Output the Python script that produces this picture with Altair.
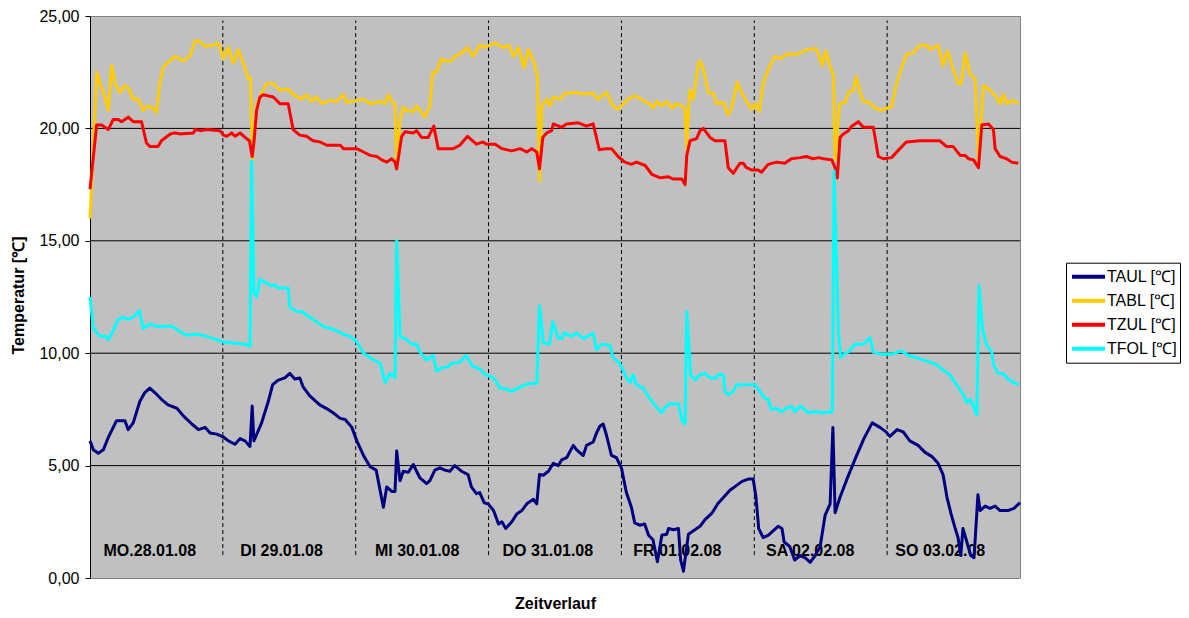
import altair as alt
import pandas as pd

# ---- data (hour of week, temperature in °C) ----
TAUL = [(0, 6.1), (0.6, 5.7), (1.5, 5.55), (2.4, 5.7), (3.3, 6.25), (4.8, 7.0), (6.3, 7.0), (6.9, 6.6),
        (7.8, 6.9), (9.0, 7.85), (9.9, 8.25), (10.8, 8.45), (11.7, 8.25), (12.9, 7.95), (14.1, 7.7),
        (15.7, 7.55), (16.9, 7.2), (18.4, 6.85), (19.6, 6.6), (20.8, 6.7), (21.7, 6.45), (22.9, 6.4),
        (24.1, 6.27), (25.0, 6.1), (26.2, 5.95), (27.1, 6.2), (28.0, 6.1), (28.9, 5.85), (29.3, 7.65),
        (29.6, 6.1), (31.0, 6.9), (32.2, 7.85), (33.0, 8.6), (34.0, 8.8), (35.2, 8.9), (36.1, 9.1),
        (37.0, 8.85), (37.9, 8.9), (38.5, 8.5), (39.7, 8.1), (41.5, 7.7), (43.0, 7.5), (43.9, 7.35),
        (45.2, 7.1), (46.1, 7.05), (47.3, 6.7), (48.2, 6.1), (49.4, 5.45), (50.6, 4.95), (51.7, 4.8),
        (52.4, 3.9), (53.0, 3.15), (53.6, 4.05), (54.5, 3.85), (55.1, 3.85), (55.4, 5.65), (56.0, 4.33),
        (56.6, 4.75), (57.5, 4.7), (58.4, 5.05), (59.0, 4.75), (59.6, 4.45), (60.8, 4.2), (61.4, 4.33),
        (62.3, 4.8), (63.2, 4.9), (64.1, 4.8), (65.0, 4.75), (65.9, 5.0), (67.1, 4.75), (68.3, 4.6),
        (68.9, 4.05), (69.8, 3.75), (70.4, 3.8), (71.2, 3.35), (71.9, 3.3), (72.9, 3.0), (73.8, 2.4),
        (74.4, 2.5), (75.1, 2.2), (76.2, 2.5), (77.1, 2.85), (78.0, 3.0), (78.9, 3.3), (80.1, 3.5),
        (80.7, 3.3), (81.2, 4.6), (81.9, 4.57), (82.8, 4.75), (83.7, 5.1), (84.6, 5.0), (85.2, 5.25),
        (86.1, 5.35), (87.3, 5.9), (87.9, 5.7), (89.1, 5.45), (89.7, 5.9), (90.9, 6.05), (91.5, 6.45),
        (92.1, 6.75), (92.7, 6.85), (93.3, 6.35), (94.2, 5.45), (95.1, 5.35), (96.0, 4.9), (96.9, 3.8),
        (97.8, 3.15), (98.4, 2.45), (99.3, 2.35), (100.2, 2.4), (100.9, 1.9), (101.7, 1.7), (102.5, 0.72),
        (103.3, 1.9), (104.2, 1.95), (104.5, 2.2), (105.4, 2.15), (106.3, 2.2), (106.7, 0.8), (107.2, 0.3),
        (108.1, 1.95), (109.0, 2.1), (110.2, 2.3), (111.1, 2.6), (112.4, 2.9), (113.4, 3.3), (114.5, 3.6),
        (115.6, 3.9), (116.7, 4.1), (117.8, 4.3), (118.9, 4.4), (119.8, 4.4), (120.3, 3.6), (120.8, 2.2),
        (121.6, 1.8), (122.5, 1.9), (123.4, 2.1), (124.3, 2.3), (125.0, 2.2), (125.4, 1.6), (126.4, 1.4),
        (127.3, 0.8), (128.3, 1.0), (129.2, 0.9), (130.1, 0.7), (131.0, 1.0), (131.9, 1.4), (132.8, 2.8),
        (133.7, 3.3), (134.2, 6.7), (134.6, 2.9), (135.5, 3.6), (136.9, 4.5), (138.4, 5.4), (139.8, 6.2),
        (141.3, 6.9), (142.7, 6.7), (143.8, 6.5), (144.5, 6.3), (145.8, 6.6), (146.9, 6.5), (148.1, 6.1),
        (149.6, 5.9), (150.8, 5.6), (152.1, 5.4), (153.2, 5.1), (154.1, 4.6), (154.8, 3.6), (155.5, 2.9),
        (156.3, 2.2), (156.8, 1.8), (157.3, 1.0), (157.7, 2.2), (158.4, 1.6), (159.1, 1.0), (159.7, 0.9),
        (160.4, 3.7), (160.8, 3.0), (161.7, 3.2), (162.6, 3.1), (163.5, 3.2), (164.4, 3.0), (165.8, 3.0),
        (166.9, 3.1), (168.0, 3.35)]

TABL = [(0, 16.0), (1.2, 22.5), (2.1, 21.8), (2.7, 21.4), (3.3, 20.8), (3.9, 22.8), (4.5, 22.0), (5.4, 21.6),
        (6.3, 21.9), (6.9, 21.8), (7.8, 21.3), (8.7, 21.3), (9.6, 20.8), (10.5, 21.0), (11.4, 20.9),
        (12.0, 20.7), (12.6, 22.0), (13.2, 22.7), (13.9, 22.9), (15.4, 23.2), (16.9, 23.0), (18.1, 23.25),
        (19.0, 23.9), (19.6, 23.9), (20.8, 23.65), (22.3, 23.7), (23.2, 23.8), (24.1, 23.1), (25.0, 23.6),
        (25.9, 22.9), (26.8, 23.5), (28.0, 22.7), (28.6, 22.2), (29.0, 22.25), (29.3, 18.6), (30.1, 21.1),
        (31.0, 21.55), (31.9, 22.0), (33.1, 22.0), (34.3, 21.7), (35.8, 21.75), (36.7, 21.5), (38.2, 21.3),
        (39.1, 21.5), (40.0, 21.2), (40.9, 21.4), (41.9, 21.1), (43.3, 21.25), (44.5, 21.2), (45.8, 21.5),
        (46.4, 21.15), (48.2, 21.25), (49.4, 21.3), (50.6, 21.1), (52.4, 21.2), (53.3, 21.1), (53.9, 21.5),
        (54.5, 21.2), (55.1, 21.1), (55.4, 18.25), (56.0, 20.4), (56.6, 20.95), (57.2, 20.8), (58.4, 20.75),
        (59.0, 21.0), (59.6, 20.8), (60.5, 20.5), (61.4, 21.0), (61.9, 22.5), (62.6, 22.5), (63.5, 23.1),
        (64.1, 23.0), (65.3, 23.0), (65.9, 23.2), (67.1, 23.35), (68.2, 23.6), (69.2, 23.2), (70.4, 23.7),
        (71.3, 23.6), (72.3, 23.7), (73.2, 23.8), (74.7, 23.6), (75.7, 23.7), (76.5, 23.2), (77.4, 23.6),
        (78.4, 22.7), (79.2, 23.5), (80.1, 23.0), (80.8, 22.4), (81.2, 17.65), (81.6, 21.0), (82.5, 21.3),
        (83.1, 21.0), (83.7, 21.4), (84.9, 21.3), (85.8, 21.55), (87.9, 21.6), (88.5, 21.55), (90.9, 21.55),
        (91.8, 21.3), (93.3, 21.6), (94.2, 21.1), (95.2, 20.85), (96.0, 21.0), (97.2, 21.3), (98.4, 21.45),
        (99.9, 21.25), (101.1, 21.1), (101.8, 20.9), (102.4, 21.2), (103.3, 21.0), (104.2, 21.2),
        (105.1, 20.9), (106.0, 21.1), (106.9, 21.0), (107.5, 20.8), (107.8, 19.05), (108.3, 21.7),
        (109.0, 21.3), (109.9, 22.9), (110.2, 23.0), (110.8, 22.65), (111.7, 21.6), (112.6, 21.55),
        (113.2, 21.1), (114.4, 21.15), (115.3, 20.6), (115.9, 20.9), (116.9, 22.05), (117.7, 21.6),
        (118.6, 21.2), (119.5, 20.85), (120.2, 21.1), (120.9, 20.75), (121.6, 22.0), (122.5, 22.6),
        (123.7, 23.2), (124.9, 23.1), (125.8, 23.3), (127.9, 23.3), (129.4, 23.5), (131.2, 23.55),
        (132.3, 22.8), (132.9, 23.45), (133.8, 22.7), (134.3, 22.35), (134.6, 18.6), (135.4, 21.1),
        (136.4, 21.15), (137.0, 21.6), (137.9, 21.7), (138.4, 22.3), (139.1, 21.6), (139.7, 21.2),
        (140.9, 21.15), (141.5, 20.95), (143.0, 20.8), (143.9, 20.9), (144.8, 20.95), (145.7, 22.0),
        (146.6, 22.7), (147.5, 23.3), (148.7, 23.35), (149.9, 23.7), (151.1, 23.7), (151.7, 23.5),
        (153.2, 23.7), (154.1, 22.8), (154.9, 23.45), (155.9, 22.65), (156.8, 22.0), (157.4, 22.0),
        (158.1, 23.35), (159.0, 22.4), (159.9, 22.2), (160.5, 18.6), (161.4, 21.9), (162.6, 21.7),
        (163.5, 21.45), (164.4, 21.1), (165.0, 21.5), (165.6, 21.1), (166.8, 21.25), (167.7, 21.1)]

TZUL = [(0, 17.3), (1.2, 20.15), (2.1, 20.15), (3.3, 19.95), (4.2, 20.4), (5.1, 20.4), (5.7, 20.3), (6.9, 20.5),
        (7.8, 20.3), (9.3, 20.3), (10.2, 19.35), (10.8, 19.2), (12.3, 19.2), (12.9, 19.45), (14.5, 19.75),
        (15.4, 19.8), (16.3, 19.75), (18.7, 19.8), (19.0, 19.95), (19.9, 19.9), (21.1, 19.95), (23.5, 19.9),
        (24.1, 19.7), (24.7, 19.65), (25.6, 19.8), (26.2, 19.65), (27.1, 19.8), (28.0, 19.6), (28.8, 19.45),
        (29.3, 18.75), (29.6, 19.35), (30.1, 20.8), (30.7, 21.4), (31.3, 21.5), (33.1, 21.4), (33.7, 21.25),
        (34.3, 21.1), (35.8, 21.1), (36.7, 19.95), (37.9, 19.7), (39.1, 19.65), (40.3, 19.45), (41.5, 19.4),
        (42.8, 19.25), (45.2, 19.25), (45.8, 19.1), (48.2, 19.1), (49.4, 18.95), (50.6, 18.8), (51.8, 18.75),
        (52.7, 18.6), (53.6, 18.5), (54.5, 18.65), (55.1, 18.5), (55.4, 18.2), (56.3, 19.65), (56.9, 19.85),
        (58.4, 19.8), (59.0, 19.9), (59.9, 19.6), (61.1, 19.6), (62.1, 20.1), (62.9, 19.1), (65.6, 19.1),
        (66.8, 19.25), (68.2, 19.65), (69.8, 19.3), (71.0, 19.4), (71.6, 19.3), (73.2, 19.3), (74.4, 19.1),
        (76.2, 19.0), (77.7, 19.1), (78.9, 18.95), (79.8, 19.1), (80.7, 18.95), (81.2, 18.2), (81.8, 19.6),
        (82.5, 19.8), (83.4, 19.9), (83.7, 20.2), (85.2, 20.05), (86.1, 20.2), (88.2, 20.25), (89.7, 20.1),
        (90.9, 20.2), (92.0, 19.05), (93.3, 19.1), (94.2, 19.1), (95.4, 18.75), (96.6, 18.5), (97.8, 18.4),
        (98.7, 18.5), (100.3, 18.35), (101.5, 17.95), (103.0, 17.8), (104.5, 17.85), (105.3, 17.75),
        (106.9, 17.75), (107.5, 17.5), (107.8, 18.8), (108.4, 19.45), (109.6, 19.55), (110.2, 19.9),
        (110.8, 20.0), (112.0, 19.6), (112.9, 19.45), (114.7, 19.45), (115.3, 18.25), (116.2, 18.0),
        (117.4, 18.45), (118.0, 18.45), (118.6, 18.25), (119.5, 18.15), (120.7, 18.15), (121.3, 18.05),
        (122.5, 18.4), (124.0, 18.5), (125.5, 18.45), (126.7, 18.65), (128.3, 18.7), (129.4, 18.75),
        (130.6, 18.65), (131.6, 18.7), (132.5, 18.65), (134.0, 18.6), (134.6, 18.25), (135.0, 17.8),
        (135.5, 19.6), (136.1, 19.75), (137.0, 19.9), (137.6, 20.1), (138.8, 20.3), (139.7, 20.05),
        (141.5, 20.05), (142.4, 18.75), (143.3, 18.65), (144.8, 18.7), (146.3, 19.1), (147.5, 19.4),
        (149.9, 19.45), (153.5, 19.45), (154.7, 19.2), (155.9, 19.2), (157.2, 18.8), (158.1, 18.8),
        (158.7, 18.65), (159.6, 18.6), (160.5, 18.25), (161.1, 20.15), (162.3, 20.2), (163.2, 19.95),
        (163.5, 19.1), (164.4, 18.75), (165.6, 18.65), (166.5, 18.5), (167.7, 18.45)]

TFOL = [(0, 12.5), (0.6, 11.1), (1.8, 10.75), (3.0, 10.75), (3.3, 10.6), (4.2, 11.0), (5.1, 11.5), (6.0, 11.6),
        (6.9, 11.5), (7.8, 11.6), (8.9, 11.9), (9.6, 11.1), (10.8, 11.3), (12.0, 11.2), (14.8, 11.2),
        (16.3, 10.95), (17.5, 10.8), (19.3, 10.85), (21.1, 10.75), (22.3, 10.65), (24.1, 10.5), (25.9, 10.45),
        (28.0, 10.4), (28.9, 10.3), (29.2, 18.55), (29.6, 12.7), (30.1, 12.5), (30.7, 13.3), (31.6, 13.15),
        (32.8, 13.0), (33.4, 13.05), (34.0, 12.9), (35.8, 12.9), (36.1, 12.05), (37.3, 11.85), (38.2, 11.85),
        (39.7, 11.6), (40.9, 11.4), (42.1, 11.2), (43.4, 11.1), (44.6, 11.0), (45.8, 10.85), (47.0, 10.75),
        (48.2, 10.5), (49.4, 10.0), (50.6, 9.8), (52.4, 9.55), (53.3, 8.7), (54.2, 9.1), (55.1, 8.9),
        (55.4, 15.0), (56.0, 10.75), (57.2, 10.6), (58.1, 10.4), (59.0, 10.4), (59.6, 10.05), (60.8, 9.7),
        (62.0, 9.9), (62.6, 9.2), (63.5, 9.35), (64.7, 9.4), (65.3, 9.55), (66.8, 9.6), (67.9, 9.9),
        (69.2, 9.4), (70.4, 9.3), (71.4, 9.05), (72.9, 8.9), (74.1, 8.45), (75.3, 8.4), (76.2, 8.3),
        (77.7, 8.5), (79.2, 8.65), (80.7, 8.65), (81.2, 12.1), (81.9, 10.45), (83.0, 10.4), (83.6, 11.4),
        (84.6, 10.65), (85.2, 10.65), (85.6, 10.9), (87.0, 10.75), (87.9, 10.9), (89.1, 10.65), (90.9, 10.9),
        (91.5, 10.15), (92.4, 10.4), (93.9, 10.35), (94.5, 9.8), (95.7, 9.55), (96.9, 8.9), (97.6, 8.7),
        (98.1, 9.05), (98.7, 8.6), (99.9, 8.45), (101.2, 7.95), (102.7, 7.5), (103.3, 7.35), (103.9, 7.6),
        (104.8, 7.75), (106.3, 7.75), (106.9, 7.05), (107.5, 6.85), (107.8, 11.85), (108.5, 9.05),
        (109.3, 8.8), (110.2, 9.05), (111.1, 9.1), (112.0, 8.9), (113.2, 8.9), (113.5, 9.05), (114.4, 9.05),
        (114.7, 8.3), (115.3, 8.15), (116.2, 8.3), (116.8, 8.6), (117.7, 8.6), (120.1, 8.6), (121.0, 8.3),
        (121.9, 8.0), (122.5, 7.95), (123.1, 7.5), (124.0, 7.55), (124.9, 7.4), (125.8, 7.55), (126.7, 7.65),
        (127.3, 7.4), (128.3, 7.65), (129.8, 7.35), (131.0, 7.4), (132.5, 7.35), (134.1, 7.4), (134.4, 18.1),
        (135.2, 10.95), (135.6, 9.8), (136.4, 10.0), (137.0, 10.05), (138.2, 10.4), (139.7, 10.4),
        (140.9, 10.7), (141.5, 10.05), (143.0, 9.95), (144.8, 9.95), (146.6, 10.1), (147.8, 9.9), (149.3, 9.8),
        (151.1, 9.65), (152.9, 9.5), (154.1, 9.25), (155.3, 9.05), (156.5, 8.6), (157.8, 8.15), (158.4, 7.8),
        (159.0, 7.95), (159.6, 7.65), (160.2, 7.25), (160.6, 13.0), (161.2, 11.1), (162.0, 10.35),
        (162.9, 10.05), (163.2, 9.5), (164.1, 9.1), (165.0, 9.1), (165.6, 8.9), (166.8, 8.7), (167.7, 8.6)]

SERIES = ["TAUL [℃]", "TABL [℃]", "TZUL [℃]", "TFOL [℃]"]
COLORS = ["#000080", "#FFCC00", "#FF0000", "#00FFFF"]

DAY_LABELS = ["MO.28.01.08", "DI 29.01.08", "MI 30.01.08", "DO 31.01.08",
              "FR 01.02.08", "SA 02.02.08", "SO 03.02.08"]
DAY_LABEL_X = [10.8, 34.6, 59.1, 82.7, 106.1, 130.1, 153.6]
DAY_LABEL_Y = 1.2
DIVIDER_X = [24, 48, 72, 96, 120, 144]
DIVIDER_Y = [1.02, 24.8]
GRID_Y = [5, 10, 15, 20]
Y_TICKS = [0, 5, 10, 15, 20, 25]
X_DOMAIN = [0, 168]
Y_DOMAIN = [0, 25]

# ---- tables ----
rows = []
for name, pts in zip(SERIES, [TAUL, TABL, TZUL, TFOL]):
    for i, (h, v) in enumerate(pts):
        rows.append({"series": name, "h": h, "v": v, "i": i})
df = pd.DataFrame(rows)
grid_df = pd.DataFrame({"y": GRID_Y})
div_df = pd.DataFrame({"x": DIVIDER_X, "y1": DIVIDER_Y[0], "y2": DIVIDER_Y[1]})
lab_df = pd.DataFrame({"x": DAY_LABEL_X, "y": DAY_LABEL_Y, "t": DAY_LABELS})

FONT = "Liberation Sans"
W, H = 930, 562
xs = alt.Scale(domain=X_DOMAIN, nice=False, zero=False)
ys = alt.Scale(domain=Y_DOMAIN, nice=False)

xaxis = alt.Axis(labels=False, ticks=False, domain=False, grid=False, title="Zeitverlauf",
                 titleFont=FONT, titleFontSize=16, titleFontWeight="bold", titleColor="black",
                 titleY=17, titleBaseline="top")
yaxis = alt.Axis(values=Y_TICKS, grid=False,
                 labelExpr="replace(format(datum.value, '.2f'), '.', ',')",
                 labelFont=FONT, labelFontSize=16, labelColor="black", labelPadding=6,
                 tickColor="black", tickSize=5, domainColor="black",
                 title="Temperatur [℃]", titleFont=FONT, titleFontSize=16, titleFontWeight="bold",
                 titleColor="black", titleAngle=270, titleX=-72, titleY=H / 2 - 2,
                 titleAlign="center", titleBaseline="middle")

grid = alt.Chart(grid_df).mark_rule(color="black", strokeWidth=1).encode(
    y=alt.Y("y:Q", scale=ys, axis=yaxis))

dividers = alt.Chart(div_df).mark_rule(color="black", strokeWidth=1, strokeDash=[4, 3]).encode(
    x=alt.X("x:Q", scale=xs, axis=xaxis),
    y=alt.Y("y1:Q", scale=ys, axis=yaxis),
    y2="y2:Q")

labels = alt.Chart(lab_df).mark_text(font=FONT, fontSize=16, fontWeight="bold", color="black",
                                     align="center", baseline="middle").encode(
    x=alt.X("x:Q", scale=xs, axis=xaxis),
    y=alt.Y("y:Q", scale=ys, axis=yaxis),
    text="t:N")

lines = alt.Chart(df).mark_line(strokeWidth=3, strokeJoin="round").encode(
    x=alt.X("h:Q", scale=xs, axis=xaxis),
    y=alt.Y("v:Q", scale=ys, axis=yaxis),
    color=alt.Color("series:N", sort=SERIES,
                    scale=alt.Scale(domain=SERIES, range=COLORS),
                    legend=alt.Legend(title=None, orient="none", legendX=976, legendY=246.7,
                                      symbolType="stroke", symbolSize=1089, symbolStrokeWidth=4,
                                      clipHeight=24, rowPadding=0, padding=2, symbolOffset=2,
                                      labelOffset=0, labelFont=FONT, labelFontSize=16,
                                      labelColor="black",
                                      strokeColor="black", fillColor="white")),
    order="i:Q")

chart = alt.layer(grid, dividers, labels, lines).properties(
    width=W, height=H,
    autosize=alt.AutoSizeParams(type="none"),
    padding={"left": 82, "top": 8, "right": 161, "bottom": 32},
    background="white",
).configure_view(fill="#C0C0C0", stroke="#808080", strokeWidth=1)

chart.save("out.html", embed_options={"renderer": "svg", "actions": False})
